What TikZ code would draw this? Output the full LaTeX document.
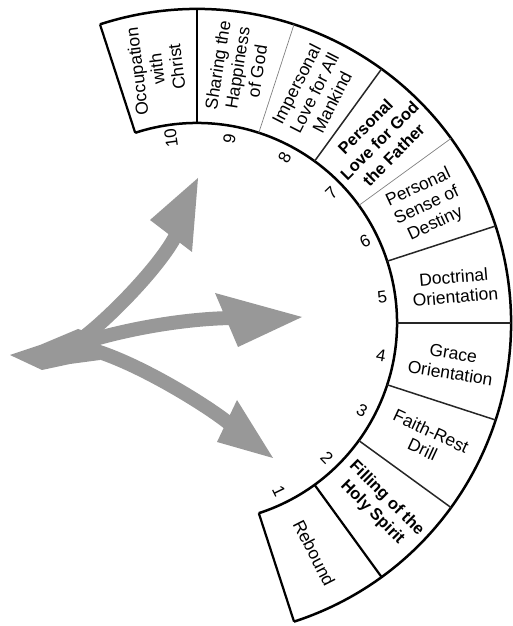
\documentclass[tikz,border=0pt]{standalone}
\usepackage{fontspec}
\setmainfont{Liberation Sans}
\usetikzlibrary{calc}
\definecolor{arrowgray}{RGB}{152,152,152}
\begin{document}
\begin{tikzpicture}[x=1pt,y=1pt,
  ring/.style={line width=2.5pt, black},
  thickdiv/.style={line width=2.2pt, black},
  div/.style={line width=1.5pt, black!85},
  thindiv/.style={line width=0.7pt, black!50},
  lab/.style={font=\fontsize{17.5}{20}\selectfont, align=center, inner sep=0pt},
  blab/.style={font=\bfseries\fontsize{16.5}{20}\selectfont, align=center, inner sep=0pt},
  num/.style={font=\fontsize{17}{17}\selectfont, inner sep=0pt},
  arr/.style={draw=arrowgray, line width=15pt, line cap=butt},
  head/.style={fill=arrowgray}]
\useasboundingbox (0,0) rectangle (513,626);
\coordinate (C) at (197,303);
\def\rin{200}
\def\rout{314}
% ring arcs
\draw[ring] ($(C)+(-72:\rin)$) arc[start angle=-72, end angle=108, radius=\rin];
\draw[ring] ($(C)+(-72:\rout)$) arc[start angle=-72, end angle=108, radius=\rout];
% radial dividers
\foreach \a in {-72,-54,90,108} {\draw[thickdiv] ($(C)+(\a:\rin)$) -- ($(C)+(\a:\rout)$);}
\foreach \a in {-36,-18,0,18,54} {\draw[div] ($(C)+(\a:\rin)$) -- ($(C)+(\a:\rout)$);}
\foreach \a in {36,72} {\draw[thindiv] ($(C)+(\a:\rin)$) -- ($(C)+(\a:\rout)$);}
% labels
\node[lab, rotate=-63] (s1) at ($(C)+(-63:258)$) {Rebound};
\node[blab, rotate=-45] (s2) at ($(C)+(-45:258)$) {Filling of the\\Holy Spirit};
\node[lab, rotate=-25] (s3) at ($(C)+(-27:258)$) {Faith-Rest\\Drill};
\node[lab, rotate=-9] (s4) at ($(C)+(-9:258)$) {Grace\\Orientation};
\node[lab, rotate=5] (s5) at ($(C)+(8:260)$) {Doctrinal\\Orientation};
\node[lab, rotate=25] (s6) at ($(C)+(27:258)$) {Personal\\Sense of\\Destiny};
\node[blab, rotate=45] (s7) at ($(C)+(45:258)$) {Personal\\Love for God\\the Father};
\node[lab, rotate=63] (s8) at ($(C)+(63:258)$) {Impersonal\\Love for All\\Mankind};
\node[lab, rotate=81] (s9) at ($(C)+(81:258)$) {Sharing the\\Happiness\\of God};
\node[lab, rotate=97] (s10) at ($(C)+(99:257)$) {Occupation\\with\\Christ};
% numbers
\foreach \k in {1,...,10} {
  \pgfmathsetmacro{\m}{(\k-5)*18+8}
  \node[num, rotate=\m] (n\k) at ($(C)+(\m:187)$) {\k};
}
% arrows (image coordinates)
\begin{scope}[shift={(0,626)}, yscale=-1]
  \coordinate (tail) at (10,355);
  \coordinate (ju) at (80,340);
  \coordinate (jm) at (85,342);
  \coordinate (jl) at (85,348);
  \coordinate (bu) at (177,233);
  \coordinate (bm) at (236,318);
  \coordinate (bl) at (231,425);
  \fill[arrowgray] (tail) -- (40,345) -- (78,329) -- (100,336) -- (100,360) -- (70,364) -- (42,370) -- cycle;
  \draw[arr, line width=14pt] (ju) .. controls (110,318) and (163,263) .. (bu);
  \draw[arr, line width=14pt] (jm) .. controls (130,328) and (190,318) .. (bm);
  \draw[arr, line width=14pt] (jl) .. controls (130,358) and (207,405) .. (bl);
  \fill[head] (150,220) -- (198,178) -- (192,252) -- cycle;
  \fill[head] (215,293) -- (302,317) -- (238,347) -- cycle;
  \fill[head] (237,400) -- (273,458) -- (217,442) -- cycle;
\end{scope}
\end{tikzpicture}
\end{document}
